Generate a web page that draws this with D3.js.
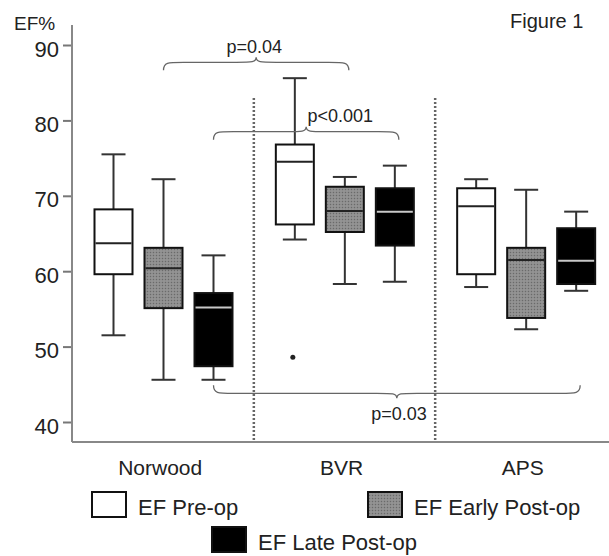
<!DOCTYPE html>
<html>
<head>
<meta charset="utf-8">
<script src="https://cdn.jsdelivr.net/npm/d3@7"></script>
<style>
  body { margin: 0; background: #fff; }
  svg { display: block; font-family: "Liberation Sans", Arial, sans-serif; }
</style>
</head>
<body>
<div id="chart"></div>
<script>
let w = 609;
let h = 556;

// data
let groups = ["Norwood", "BVR", "APS"];
let series = ["EF Pre-op", "EF Early Post-op", "EF Late Post-op"];
let yTicks = [40, 50, 60, 70, 80, 90];

// [whisker low, q1, median, q3, whisker high] per group, one array per series
let preOp   = [[51.5, 59.6, 63.7, 68.2, 75.5], [64.2, 66.2, 74.5, 76.8, 85.6], [57.9, 59.6, 68.6, 71.0, 72.2]];
let earlyOp = [[45.6, 55.1, 60.4, 63.1, 72.2], [58.3, 65.2, 68.0, 71.2, 72.5], [52.3, 53.8, 61.5, 63.1, 70.8]];
let lateOp  = [[45.6, 47.4, 55.2, 57.1, 62.1], [58.6, 63.4, 67.9, 71.0, 74.0], [57.4, 58.3, 61.4, 65.7, 67.9]];
let outliers = [{ group: "BVR", series: "EF Pre-op", value: 48.6 }];

// significance braces: from [group, series] to [group, series], level in EF%
let braces = [
  { from: ["Norwood", "EF Early Post-op"], to: ["BVR", "EF Early Post-op"], level: 87.7, dir: -1, label: "p=0.04" },
  { from: ["Norwood", "EF Late Post-op"],  to: ["BVR", "EF Late Post-op"],  level: 78.5, dir: -1, label: "p<0.001" },
  { from: ["Norwood", "EF Late Post-op"],  to: ["APS", "EF Late Post-op"],  level: 43.8, dir: 1,  label: "p=0.03" }
];

let allStats = [preOp, earlyOp, lateOp];

let svg = d3.select("#chart").append("svg")
  .attr("width", w).attr("height", h)
  .attr("viewBox", `0 0 ${w} ${h}`);

let defs = svg.append("defs");
let pat = defs.append("pattern")
  .attr("id", "hatch").attr("patternUnits", "userSpaceOnUse")
  .attr("width", 3).attr("height", 3);
pat.append("rect").attr("width", 3).attr("height", 3).attr("fill", "#8c8c8c");
pat.append("rect").attr("width", 1).attr("height", 1).attr("fill", "#6a6a6a");
pat.append("rect").attr("x", 1.5).attr("y", 1.5).attr("width", 1).attr("height", 1).attr("fill", "#a8a8a8");

let fills = { "EF Pre-op": "#fff", "EF Early Post-op": "url(#hatch)", "EF Late Post-op": "#000" };
let medianColor = { "EF Pre-op": "#222", "EF Early Post-op": "#222", "EF Late Post-op": "#c8c8c8" };

let axisLeftX = 72;
let axisBottomY = 442;

let xGroup = d3.scaleBand().domain(groups).range([72.5, 616.5]);
let xSeries = d3.scaleBand().domain(series).range([16, 166]);
let y = d3.scaleLinear().domain([40, 90]).range([422, 45]);

let cx = (g, s) => xGroup(g) + xSeries(s) + xSeries.bandwidth() / 2;
let boxW = 38;
let capW = 24;

// axes
let yAxis = d3.axisLeft(y).tickValues(yTicks).tickSize(9).tickPadding(4);
let gy = svg.append("g").attr("transform", `translate(${axisLeftX},0)`).call(yAxis);
gy.select(".domain").remove();
gy.selectAll(".tick line").attr("stroke", "#777").attr("stroke-width", 2);
gy.selectAll(".tick text").attr("fill", "#222").attr("dy", "0.5em").style("font-size", "22px");

svg.append("line")
  .attr("x1", axisLeftX).attr("x2", axisLeftX)
  .attr("y1", 25).attr("y2", axisBottomY)
  .attr("stroke", "#888").attr("stroke-width", 2);
svg.append("line")
  .attr("x1", axisLeftX).attr("x2", w)
  .attr("y1", axisBottomY).attr("y2", axisBottomY)
  .attr("stroke", "#888").attr("stroke-width", 2);

// group dividers
svg.selectAll(".divider")
  .data(groups.slice(1))
  .enter().append("line")
  .attr("class", "divider")
  .attr("x1", d => xGroup(d)).attr("x2", d => xGroup(d))
  .attr("y1", 98).attr("y2", axisBottomY)
  .attr("stroke", "#666").attr("stroke-width", 2.5)
  .attr("stroke-dasharray", "2,2");

// category labels
svg.selectAll(".cat")
  .data(groups)
  .enter().append("text")
  .attr("x", d => xGroup(d) + xGroup.bandwidth() / 2 - 3)
  .attr("y", 475)
  .attr("text-anchor", "middle")
  .attr("fill", "#222")
  .style("font-size", "21px")
  .text(d => d);

// boxes
let boxData = [];
series.forEach((s, si) => {
  groups.forEach((g, gi) => {
    let st = allStats[si][gi];
    boxData.push({ g, s, lo: st[0], q1: st[1], med: st[2], q3: st[3], hi: st[4] });
  });
});

let box = svg.selectAll(".box").data(boxData).enter().append("g").attr("class", "box");

box.append("line")
  .attr("x1", d => cx(d.g, d.s)).attr("x2", d => cx(d.g, d.s))
  .attr("y1", d => y(d.hi)).attr("y2", d => y(d.q3))
  .attr("stroke", "#333").attr("stroke-width", 2);
box.append("line")
  .attr("x1", d => cx(d.g, d.s)).attr("x2", d => cx(d.g, d.s))
  .attr("y1", d => y(d.q1)).attr("y2", d => y(d.lo))
  .attr("stroke", "#333").attr("stroke-width", 2);
box.append("line")
  .attr("x1", d => cx(d.g, d.s) - capW / 2).attr("x2", d => cx(d.g, d.s) + capW / 2)
  .attr("y1", d => y(d.hi)).attr("y2", d => y(d.hi))
  .attr("stroke", "#333").attr("stroke-width", 2);
box.append("line")
  .attr("x1", d => cx(d.g, d.s) - capW / 2).attr("x2", d => cx(d.g, d.s) + capW / 2)
  .attr("y1", d => y(d.lo)).attr("y2", d => y(d.lo))
  .attr("stroke", "#333").attr("stroke-width", 2);
box.append("rect")
  .attr("x", d => cx(d.g, d.s) - boxW / 2)
  .attr("y", d => y(d.q3))
  .attr("width", boxW)
  .attr("height", d => y(d.q1) - y(d.q3))
  .attr("fill", d => fills[d.s])
  .attr("stroke", "#111").attr("stroke-width", 2);
box.append("line")
  .attr("x1", d => cx(d.g, d.s) - boxW / 2 + 1).attr("x2", d => cx(d.g, d.s) + boxW / 2 - 1)
  .attr("y1", d => y(d.med)).attr("y2", d => y(d.med))
  .attr("stroke", d => medianColor[d.s]).attr("stroke-width", 2);

// outliers
svg.selectAll(".outlier")
  .data(outliers)
  .enter().append("circle")
  .attr("cx", d => cx(d.group, d.series) - 2)
  .attr("cy", d => y(d.value))
  .attr("r", 2.5)
  .attr("fill", "#222");

// braces
function bracePath(x1, x2, yl, dir) {
  let r = 10, tip = 5, curl = 8;
  let xm = (x1 + x2) / 2;
  let yEnd = yl - dir * curl;
  let yTip = yl + dir * tip;
  return `M${x1},${yEnd} C${x1},${yl} ${x1 + 4},${yl} ${x1 + r * 2},${yl}` +
    ` L${xm - r * 2},${yl} C${xm - 4},${yl} ${xm},${yl} ${xm},${yTip}` +
    ` C${xm},${yl} ${xm + 4},${yl} ${xm + r * 2},${yl}` +
    ` L${x2 - r * 2},${yl} C${x2 - 4},${yl} ${x2},${yl} ${x2},${yEnd}`;
}

let br = svg.selectAll(".brace").data(braces).enter().append("g").attr("class", "brace");
br.append("path")
  .attr("d", d => bracePath(cx(d.from[0], d.from[1]), cx(d.to[0], d.to[1]) + 4, y(d.level), d.dir))
  .attr("fill", "none").attr("stroke", "#666").attr("stroke-width", 1.3);
br.append("text")
  .attr("x", d => (cx(d.from[0], d.from[1]) + cx(d.to[0], d.to[1])) / 2 + (d.dir < 0 && d.label === "p<0.001" ? 36 : 0))
  .attr("y", d => d.dir < 0 ? y(d.level) - (d.label === "p<0.001" ? 10 : 9) : y(d.level) + 27)
  .attr("text-anchor", d => d.label === "p<0.001" ? "middle" : (d.dir > 0 ? "end" : "middle"))
  .attr("dx", d => d.dir > 0 ? 32 : 0)
  .attr("fill", "#222")
  .style("font-size", "18px")
  .text(d => d.label);

// titles
svg.append("text").attr("x", 14).attr("y", 30)
  .attr("fill", "#222").style("font-size", "19px").text("EF%");
svg.append("text").attr("x", 510).attr("y", 28)
  .attr("fill", "#222").style("font-size", "20px").text("Figure 1");

// legend
let legendPos = [
  { s: "EF Pre-op", x: 92, y: 492 },
  { s: "EF Early Post-op", x: 368, y: 492 },
  { s: "EF Late Post-op", x: 212, y: 527 }
];
let lg = svg.selectAll(".legend").data(legendPos).enter().append("g").attr("class", "legend");
lg.append("rect")
  .attr("x", d => d.x).attr("y", d => d.y)
  .attr("width", 34).attr("height", 25)
  .attr("fill", d => fills[d.s])
  .attr("stroke", "#111").attr("stroke-width", 2);
lg.append("text")
  .attr("x", d => d.x + 46).attr("y", d => d.y + 23)
  .attr("fill", "#222").style("font-size", "22px")
  .text(d => d.s);
</script>
</body>
</html>
